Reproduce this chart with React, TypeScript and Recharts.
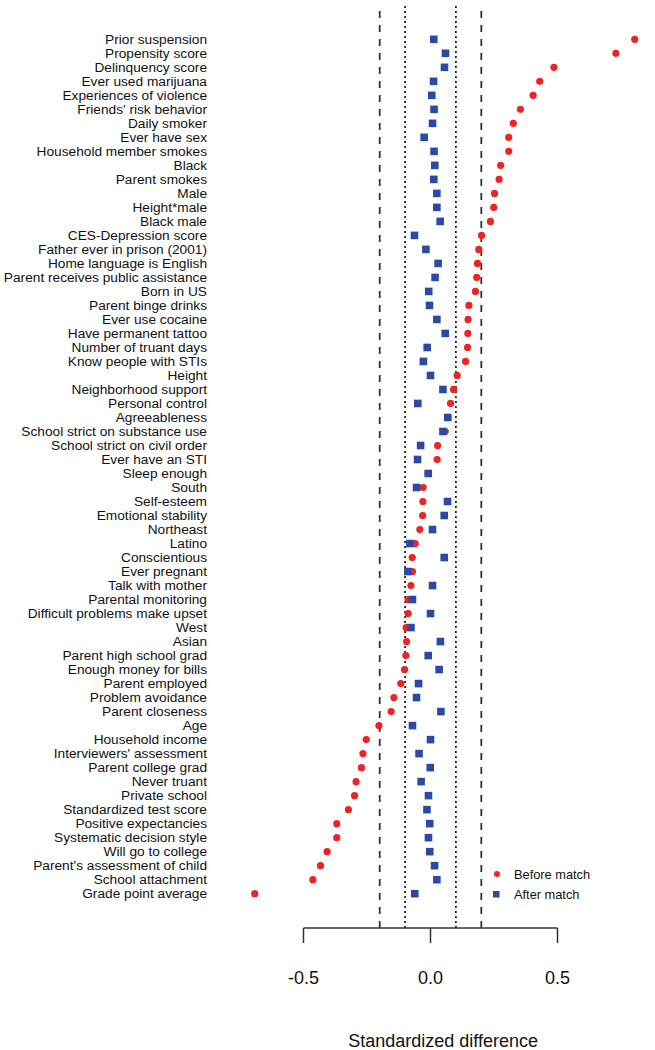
import React from 'react'
import {
  ReferenceLine,
  Scatter,
  ScatterChart,
  XAxis,
  YAxis,
} from 'recharts'

const FONT = '"Liberation Sans", Arial, Helvetica, sans-serif'
const RED = '#ec2424'
const BLUE = '#2b4aa6'

const LABELS = [
  'Prior suspension',
  'Propensity score',
  'Delinquency score',
  'Ever used marijuana',
  'Experiences of violence',
  "Friends' risk behavior",
  'Daily smoker',
  'Ever have sex',
  'Household member smokes',
  'Black',
  'Parent smokes',
  'Male',
  'Height*male',
  'Black male',
  'CES-Depression score',
  'Father ever in prison (2001)',
  'Home language is English',
  'Parent receives public assistance',
  'Born in US',
  'Parent binge drinks',
  'Ever use cocaine',
  'Have permanent tattoo',
  'Number of truant days',
  'Know people with STIs',
  'Height',
  'Neighborhood support',
  'Personal control',
  'Agreeableness',
  'School strict on substance use',
  'School strict on civil order',
  'Ever have an STI',
  'Sleep enough',
  'South',
  'Self-esteem',
  'Emotional stability',
  'Northeast',
  'Latino',
  'Conscientious',
  'Ever pregnant',
  'Talk with mother',
  'Parental monitoring',
  'Difficult problems make upset',
  'West',
  'Asian',
  'Parent high school grad',
  'Enough money for bills',
  'Parent employed',
  'Problem avoidance',
  'Parent closeness',
  'Age',
  'Household income',
  "Interviewers' assessment",
  'Parent college grad',
  'Never truant',
  'Private school',
  'Standardized test score',
  'Positive expectancies',
  'Systematic decision style',
  'Will go to college',
  "Parent's assessment of child",
  'School attachment',
  'Grade point average',
]

// standardized difference before matching (red dots)
const BEFORE = [
  0.804, 0.73, 0.486, 0.43, 0.404, 0.354, 0.326, 0.308, 0.308, 0.276,
  0.27, 0.252, 0.249, 0.236, 0.201, 0.19, 0.185, 0.182, 0.177, 0.151,
  0.148, 0.147, 0.146, 0.138, 0.105, 0.091, 0.079, 0.068, 0.058, 0.028,
  0.026, -0.009, -0.029, -0.03, -0.031, -0.042, -0.06, -0.072, -0.071, -0.077,
  -0.088, -0.088, -0.096, -0.094, -0.097, -0.102, -0.117, -0.144, -0.155, -0.203,
  -0.253, -0.266, -0.272, -0.293, -0.299, -0.323, -0.369, -0.369, -0.407, -0.433,
  -0.463, -0.692,
]

// standardized difference after matching (blue squares)
const AFTER = [
  0.013, 0.059, 0.055, 0.012, 0.005, 0.014, 0.008, -0.025, 0.014, 0.017,
  0.013, 0.025, 0.025, 0.038, -0.063, -0.018, 0.03, 0.018, -0.007, -0.004,
  0.025, 0.058, -0.013, -0.028, 0.0, 0.049, -0.05, 0.068, 0.049, -0.039,
  -0.051, -0.009, -0.055, 0.067, 0.054, 0.008, -0.081, 0.054, -0.089, 0.008,
  -0.071, 0.0, -0.077, 0.039, -0.009, 0.034, -0.047, -0.055, 0.041, -0.071,
  0.0, -0.045, -0.001, -0.037, -0.008, -0.014, -0.003, -0.008, -0.003, 0.016,
  0.025, -0.062,
]

const X_TICKS = [-0.5, 0, 0.5]
const X_TICK_LABELS = ['-0.5', '0.0', '0.5']

const Y_MIN = -2.45
const Y_MAX = 63.45

const beforeData = BEFORE.map((x, i) => ({ x, y: i }))
const afterData = AFTER.map((x, i) => ({ x, y: i }))
const rowTicks = LABELS.map((_, i) => i)

function RowLabel(props: any) {
  const { y, payload } = props
  return (
    <text x={207} y={y + 4.8} textAnchor="end" fontSize={13.7} fill="#111" fontFamily={FONT}>
      {LABELS[payload.value]}
    </text>
  )
}

function XTick(props: any) {
  const { x, payload } = props
  const idx = X_TICKS.indexOf(payload.value)
  return (
    <text x={x} y={983.5} textAnchor="middle" fontSize={18} fill="#111" fontFamily={FONT}>
      {X_TICK_LABELS[idx]}
    </text>
  )
}

const Dot = (p: any) => <circle cx={p.cx} cy={p.cy} r={3.6} fill={RED} />
const Square = (p: any) => (
  <rect x={p.cx - 3.8} y={p.cy - 3.8} width={7.6} height={7.6} fill={BLUE} />
)

// legend drawn as an overlay, so it does not take space from the plot
function LegendBox() {
  return (
    <svg
      width={120}
      height={44}
      style={{ position: 'absolute', left: 490, top: 862, display: 'block' }}
    >
      <circle cx={7} cy={12} r={3} fill={RED} />
      <text x={24} y={16.5} fontSize={12.8} fill="#111" fontFamily={FONT}>
        Before match
      </text>
      <rect x={3} y={29} width={6.5} height={6.5} fill={BLUE} />
      <text x={24} y={36.5} fontSize={12.8} fill="#111" fontFamily={FONT}>
        After match
      </text>
    </svg>
  )
}

export default function App() {
  return (
    <div style={{ position: 'absolute', left: 0, top: 0, width: 655, height: 1050, background: '#fff' }}>
      <ScatterChart
        width={655}
        height={1050}
        margin={{ top: 5, right: 8.6, bottom: 0, left: 0 }}
      >
        <XAxis
          type="number"
          dataKey="x"
          domain={[-0.75, 0.85]}
          allowDataOverflow
          ticks={X_TICKS}
          interval={0}
          axisLine={false}
          tickLine={{ stroke: '#333', strokeWidth: 1.5 }}
          tickSize={15}
          tick={<XTick />}
          height={122}
          label={{
            value: 'Standardized difference',
            position: 'insideBottom',
            offset: 3.5,
            fontSize: 18,
            fill: '#111',
            fontFamily: FONT,
          }}
        />
        <YAxis
          type="number"
          dataKey="y"
          domain={[Y_MIN, Y_MAX]}
          allowDataOverflow
          reversed
          ticks={rowTicks}
          interval={0}
          width={240}
          axisLine={false}
          tickLine={false}
          tick={<RowLabel />}
        />
        <ReferenceLine x={-0.2} stroke="#333" strokeWidth={1.8} strokeDasharray="7 7" />
        <ReferenceLine x={0.2} stroke="#333" strokeWidth={1.8} strokeDasharray="7 7" />
        <ReferenceLine x={-0.1} stroke="#222" strokeWidth={1.8} strokeDasharray="2 3" />
        <ReferenceLine x={0.1} stroke="#222" strokeWidth={1.8} strokeDasharray="2 3" />
        <ReferenceLine
          segment={[
            { x: -0.5, y: Y_MAX },
            { x: 0.5, y: Y_MAX },
          ]}
          stroke="#333"
          strokeWidth={1.5}
        />
        <Scatter
          name="Before match"
          data={beforeData}
          shape={Dot}
          isAnimationActive={false}
        />
        <Scatter
          name="After match"
          data={afterData}
          shape={Square}
          isAnimationActive={false}
        />
      </ScatterChart>
      <LegendBox />
    </div>
  )
}
